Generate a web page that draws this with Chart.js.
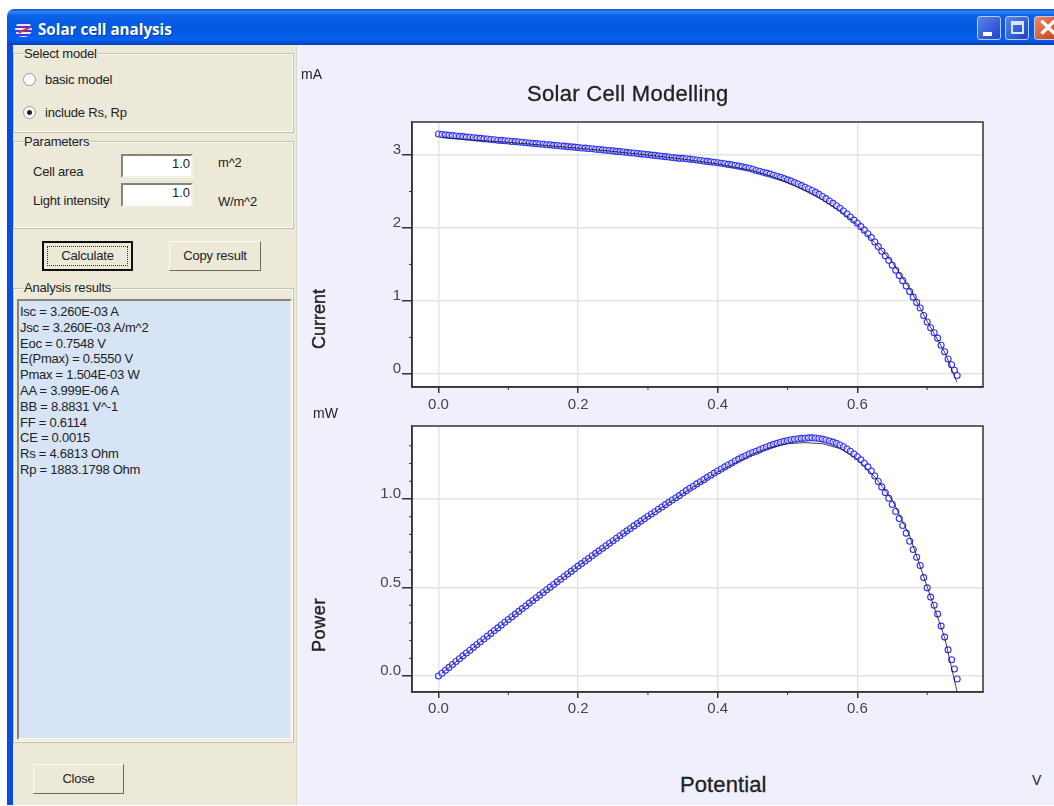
<!DOCTYPE html>
<html>
<head>
<meta charset="utf-8">
<title>Solar cell analysis</title>
<script src="https://cdn.jsdelivr.net/npm/chart.js@4"></script>
<style>
html, body { margin: 0; padding: 0; background: #fff; width: 1054px; height: 806px; overflow: hidden; }
body { font-family: "Liberation Sans", Arial, sans-serif; color: #222; }
.abs { position: absolute; white-space: nowrap; }
#window { position: absolute; left: 7px; top: 9px; width: 1047px; height: 796px; background: #f0f0fc; border-radius: 7px 0 0 0; overflow: hidden; }
#titlebar { position: absolute; left: 0; top: 0; width: 1047px; height: 36px;
  background: linear-gradient(180deg, #0a50d8 0%, #2f86f5 8%, #0c62e6 18%, #0458e2 55%, #0560ee 85%, #0a3fb8 100%); }
#titletext { left: 38px; color: #fff; font: bold 15.2px "Open Sans", sans-serif; text-shadow: 1px 1px 0 #0a3a9c; }
#leftborder { left: 7px; top: 45px; width: 6px; height: 760px; background: #0c4be0; }
#panel { left: 13px; top: 45px; width: 283px; height: 760px; background: #ece9d8; border-right: 1px solid #dcd9c6; }
.group { position: absolute; box-sizing: border-box; border: 1px solid #c4c1ac; box-shadow: 0 0 0 1px #fbfaf4 inset; }
.glabel { position: absolute; background: #ece9d8; font-size: 13px; padding: 0 1px; line-height: 14px; letter-spacing: -0.2px; }
.ui { font-size: 13px; letter-spacing: -0.2px; }
.radio { position: absolute; width: 11px; height: 11px; border-radius: 50%; background: #fff; border: 1px solid #9a988c; box-sizing: content-box; }
.radio.on::after { content: ""; position: absolute; left: 3px; top: 3px; width: 5px; height: 5px; border-radius: 50%; background: #222; }
.input { position: absolute; box-sizing: border-box; background: #fff; border: 2px solid; border-color: #86847a #f4f3ea #f4f3ea #86847a; text-align: right; padding-right: 1px; font-size: 13px; line-height: 16px; }
.btn { position: absolute; box-sizing: border-box; background: #ece9d8; border: 1px solid; border-color: #fbfaf4 #6e6c60 #6e6c60 #fbfaf4; text-align: center; font-size: 13px; letter-spacing: -0.2px; }
.btn.def { border: 2px solid #111; }
.btn.def span { position: absolute; left: 3px; right: 3px; top: 3px; bottom: 3px; border: 1px dotted #333; line-height: 18px; }
#results { left: 17px; top: 299px; width: 275px; height: 441px; box-sizing: border-box; background: #d6e4f6; border: 2px solid; border-color: #86847a #f4f3ea #f4f3ea #86847a; padding: 3px 0 0 1px; font-size: 13px; line-height: 15.8px; letter-spacing: -0.25px; }
.wbtn { position: absolute; top: 16px; height: 24px; box-sizing: border-box; border: 1px solid #b8ccf4; border-radius: 3px; }
canvas { position: absolute; }
.clabel { color: #222; }
</style>
</head>
<body>
<div id="window"><div id="titlebar"></div></div>
<div class="abs" style="left:15px;top:22px;width:17px;height:15px;border-radius:8px;background:repeating-linear-gradient(180deg,#3a3ae0 0,#3a3ae0 2px,#e8e8ff 2px,#e8e8ff 4px)"></div>
<div class="abs" style="left:18px;top:29px;width:13px;height:2px;background:#e83030;transform:rotate(-25deg)"></div>
<div class="abs" id="titletext" style="top:19px">Solar cell analysis</div>
<div class="wbtn" style="left:977px;width:24px;background:linear-gradient(135deg,#5a85ec,#1a44c8)"><div class="abs" style="left:5px;top:15px;width:9px;height:4px;background:#fff"></div></div>
<div class="wbtn" style="left:1005px;width:24px;background:linear-gradient(135deg,#5a85ec,#1a44c8)"><div class="abs" style="left:5px;top:4px;width:13px;height:13px;box-sizing:border-box;border:2px solid #dde6ff;border-top-width:4px"></div></div>
<div class="wbtn" style="left:1034px;width:24px;background:linear-gradient(135deg,#ee8a5c,#c8401a);color:#fff;font:bold 24px 'Liberation Sans';line-height:21px;text-indent:3px">&#x2715;</div>

<div class="abs" id="leftborder"></div>
<div class="abs" id="panel"></div>

<div class="group" style="left:13px;top:53px;width:281px;height:80px"></div>
<div class="glabel abs" style="left:23px;top:47px">Select model</div>
<div class="radio" style="left:23px;top:73px"></div>
<div class="abs ui" style="left:45px;top:72px">basic model</div>
<div class="radio on" style="left:23px;top:106px"></div>
<div class="abs ui" style="left:45px;top:105px">include Rs, Rp</div>

<div class="group" style="left:13px;top:141px;width:281px;height:88px"></div>
<div class="glabel abs" style="left:23px;top:135px">Parameters</div>
<div class="abs ui" style="left:33px;top:164px">Cell area</div>
<div class="input" style="left:121px;top:154px;width:72px;height:24px">1.0</div>
<div class="abs ui" style="left:218px;top:155px">m^2</div>
<div class="abs ui" style="left:33px;top:193px">Light intensity</div>
<div class="input" style="left:121px;top:183px;width:72px;height:24px">1.0</div>
<div class="abs ui" style="left:218px;top:194px">W/m^2</div>

<div class="btn def" style="left:42px;top:241px;width:91px;height:30px"><span>Calculate</span></div>
<div class="btn" style="left:169px;top:241px;width:92px;height:30px;line-height:27px">Copy result</div>

<div class="group" style="left:13px;top:288px;width:281px;height:455px"></div>
<div class="glabel abs" style="left:23px;top:281px">Analysis results</div>
<div class="abs" id="results"></div>
<div class="btn" style="left:33px;top:764px;width:91px;height:30px;line-height:27px">Close</div>

<canvas id="currentChart" width="758" height="370" style="left:296px;top:45px"></canvas>
<canvas id="powerChart" width="758" height="310" style="left:296px;top:415px"></canvas>

<div class="abs clabel" style="left:301px;top:66px;font-size:14px">mA</div>
<div class="abs clabel" style="left:313px;top:405px;font-size:14px">mW</div>
<div class="abs clabel" style="left:1032px;top:772px;font-size:14px">V</div>
<div class="abs clabel" id="plotTitle" style="left:527px;top:81px;font-size:22px;letter-spacing:0.3px;-webkit-text-stroke:0.3px #222">Solar Cell Modelling</div>
<div class="abs clabel" id="xTitle" style="left:680px;top:772px;font-size:22px;letter-spacing:0.1px;-webkit-text-stroke:0.3px #222">Potential</div>
<div class="abs clabel" style="left:319px;top:319px;font-size:18px;-webkit-text-stroke:0.4px #222;transform:translate(-50%,-50%) rotate(-90deg)">Current</div>
<div class="abs clabel" style="left:319px;top:625px;font-size:18px;letter-spacing:0.6px;-webkit-text-stroke:0.4px #222;transform:translate(-50%,-50%) rotate(-90deg)">Power</div>

<script>
// results list
const resultLines = ['Isc = 3.260E-03 A', 'Jsc = 3.260E-03 A/m^2', 'Eoc = 0.7548 V', 'E(Pmax) = 0.5550 V',
    'Pmax = 1.504E-03 W', 'AA = 3.999E-06 A', 'BB = 8.8831 V^-1', 'FF = 0.6114', 'CE = 0.0015',
    'Rs = 4.6813 Ohm', 'Rp = 1883.1798 Ohm'];

// measured points (blue circles)
const voltage = [0,.005,.01,.015,.02,.025,.03,.035,.04,.045,.05,.055,.06,.065,.07,.075,.08,.085,.09,.095,
    .1,.105,.11,.115,.12,.125,.13,.135,.14,.145,.15,.155,.16,.165,.17,.175,.18,.185,.19,.195,
    .2,.205,.21,.215,.22,.225,.23,.235,.24,.245,.25,.255,.26,.265,.27,.275,.28,.285,.29,.295,
    .3,.305,.31,.315,.32,.325,.33,.335,.34,.345,.35,.355,.36,.365,.37,.375,.38,.385,.39,.395,
    .4,.405,.41,.415,.42,.425,.43,.435,.44,.445,.45,.455,.46,.465,.47,.475,.48,.485,.49,.495,
    .5,.505,.51,.515,.52,.525,.53,.535,.54,.545,.55,.555,.56,.565,.57,.575,.58,.585,.59,.595,
    .6,.605,.61,.615,.62,.625,.63,.635,.64,.645,.65,.655,.66,.665,.67,.675,.68,.685,.69,.695,
    .7,.705,.71,.715,.72,.725,.73,.735,.739,.743];
const current = [3.288,3.281,3.277,3.271,3.266,3.262,3.256,3.253,3.246,3.243,3.238,3.232,3.229,3.222,3.219,3.213,3.21,3.203,3.201,3.196,
    3.193,3.186,3.184,3.178,3.175,3.168,3.166,3.16,3.156,3.152,3.148,3.142,3.14,3.133,3.131,3.124,3.122,3.115,3.112,3.108,
    3.104,3.097,3.095,3.089,3.086,3.079,3.076,3.071,3.066,3.062,3.057,3.05,3.047,3.041,3.037,3.03,3.027,3.021,3.016,3.011,
    3.006,2.999,2.995,2.989,2.984,2.978,2.973,2.967,2.961,2.955,2.955,2.95,2.944,2.938,2.932,2.925,2.919,2.913,2.907,2.901,
    2.895,2.887,2.881,2.872,2.865,2.856,2.848,2.838,2.828,2.818,2.805,2.789,2.778,2.765,2.752,2.739,2.724,2.709,2.694,2.677,
    2.66,2.642,2.622,2.602,2.581,2.559,2.537,2.513,2.488,2.461,2.432,2.402,2.37,2.338,2.305,2.27,2.232,2.191,2.15,2.108,
    2.064,2.018,1.97,1.921,1.868,1.808,1.745,1.682,1.618,1.556,1.49,1.419,1.347,1.278,1.205,1.128,1.052,.98,.904,.8,
    .712,.633,.563,.49,.392,.303,.203,.125,.05,-.023];
const power = [0,.016,.033,.049,.065,.082,.098,.114,.13,.146,.162,.178,.194,.209,.225,.241,.257,.272,.288,.304,
    .319,.335,.35,.365,.381,.396,.412,.427,.442,.457,.472,.487,.502,.517,.532,.547,.562,.576,.591,.606,
    .621,.635,.65,.664,.679,.693,.707,.722,.736,.75,.764,.778,.792,.806,.82,.833,.848,.861,.875,.888,
    .902,.915,.928,.942,.955,.968,.981,.994,1.007,1.019,1.034,1.047,1.06,1.072,1.085,1.097,1.109,1.122,1.134,1.146,
    1.158,1.169,1.181,1.192,1.203,1.214,1.225,1.235,1.244,1.254,1.262,1.269,1.278,1.286,1.293,1.301,1.308,1.314,1.32,1.325,
    1.33,1.334,1.337,1.34,1.342,1.343,1.345,1.345,1.344,1.341,1.338,1.333,1.327,1.321,1.314,1.305,1.295,1.282,1.269,1.254,
    1.238,1.221,1.202,1.181,1.158,1.13,1.099,1.068,1.036,1.004,.969,.929,.889,.85,.807,.761,.715,.671,.624,.556,
    .498,.446,.4,.35,.282,.22,.148,.092,.04,-.017];

// fitted model (black line)
const fitVoltage = [.005,.025,.05,.1,.15,.2,.25,.3,.35,.4,.45,.475,.5,.525,.55,.575,.6,.625,.65,.675,.7,.725,.7428];
const fitCurrent = [3.24,3.225,3.205,3.175,3.135,3.095,3.05,3,2.945,2.88,2.785,2.715,2.625,2.51,2.385,2.235,2.045,1.8,1.53,1.17,.72,.3,-.117];
const fitPower = [.016,.08,.16,.318,.47,.62,.762,.9,1.03,1.152,1.253,1.29,1.312,1.318,1.312,1.285,1.226,1.125,.995,.79,.504,.218,-.087];

// ticks
const xTicks = [0,.1,.2,.3,.4,.5,.6,.7];
const xLabels = {0:'0.0',.2:'0.2',.4:'0.4',.6:'0.6'};
const currentTicks = [0,.5,1,1.5,2,2.5,3];
const currentLabels = {0:'0',1:'1',2:'2',3:'3'};
const powerTicks = [0,.1,.2,.3,.4,.5,.6,.7,.8,.9,1,1.1,1.2,1.3];
const powerLabels = {0:'0.0',.5:'0.5',1:'1.0'};

document.querySelector('#results').innerHTML = resultLines.join('<br>');

// white plot background, frame and short ticks
const plotFrame = {
    id: 'plotFrame',
    beforeDraw(chart) {
        const a = chart.chartArea;
        chart.ctx.fillStyle = '#fff';
        chart.ctx.fillRect(a.left, a.top, a.right - a.left, a.bottom - a.top);
    },
    afterDraw(chart) {
        const ctx = chart.ctx, a = chart.chartArea;
        ctx.save();
        ctx.strokeStyle = '#333';
        ctx.lineWidth = 1.5;
        ctx.strokeRect(a.left, a.top, a.right - a.left, a.bottom - a.top);
        ctx.lineWidth = 1;
        ctx.beginPath();
        chart.scales.x.ticks.forEach((t, i) => {
            if (t.label !== '') return;
            const px = chart.scales.x.getPixelForTick(i);
            ctx.moveTo(px, a.bottom);
            ctx.lineTo(px, a.bottom + 3);
        });
        chart.scales.y.ticks.forEach((t, i) => {
            if (t.label !== '') return;
            const py = chart.scales.y.getPixelForTick(i);
            ctx.moveTo(a.left, py);
            ctx.lineTo(a.left - 3, py);
        });
        ctx.stroke();
        ctx.restore();
    }
};

function makeChart(id, measured, fitted, cfg) {
    const pts = measured.map((v, i) => ({x: voltage[i], y: v}));
    const line = fitted.map((v, i) => ({x: fitVoltage[i], y: v}));
    const labelled = (labels) => (ctx) => labels[ctx.tick.value] !== undefined;
    return new Chart(document.querySelector(id), {
        type: 'scatter',
        data: {
            datasets: [
                {data: line, showLine: true, borderColor: 'rgba(20,20,20,0.8)', borderWidth: 1, pointRadius: 0, tension: 0, order: 0},
                {data: pts, showLine: false, pointRadius: 3, borderColor: '#3030ff', borderWidth: 1.1, backgroundColor: 'rgba(255,255,255,0.45)', order: 1}
            ]
        },
        options: {
            responsive: false,
            animation: false,
            devicePixelRatio: 1,
            layout: {autoPadding: false, padding: {top: cfg.top, right: 71, left: 0, bottom: 0}},
            plugins: {legend: {display: false}, tooltip: {enabled: false}, title: {display: false}},
            scales: {
                x: {
                    type: 'linear', min: -0.038, max: 0.78,
                    afterBuildTicks: (s) => { s.ticks = xTicks.map(v => ({value: v})); },
                    afterFit: (s) => { s.height = cfg.xHeight; },
                    border: {color: '#333', width: 1.5},
                    grid: {
                        color: (c) => labelled(xLabels)(c) ? '#e4e4e4' : 'transparent',
                        tickColor: (c) => labelled(xLabels)(c) ? '#333' : 'transparent',
                        tickLength: 6, lineWidth: 1.5
                    },
                    ticks: {
                        autoSkip: false, maxRotation: 0, padding: cfg.xPad, color: '#444',
                        font: {family: 'Liberation Sans', size: 15},
                        callback: (v) => xLabels[v] !== undefined ? xLabels[v] : ''
                    }
                },
                y: {
                    type: 'linear', min: cfg.yMin, max: cfg.yMax,
                    afterBuildTicks: (s) => { s.ticks = cfg.yTicks.map(v => ({value: v})); },
                    afterFit: (s) => { s.width = 116; },
                    border: {color: '#333', width: 1.5},
                    grid: {
                        color: (c) => labelled(cfg.yLabels)(c) ? '#e4e4e4' : 'transparent',
                        tickColor: (c) => labelled(cfg.yLabels)(c) ? '#333' : 'transparent',
                        tickLength: 10, lineWidth: 1.5
                    },
                    ticks: {
                        autoSkip: false, padding: 1, labelOffset: -5, color: '#444',
                        font: {family: 'Liberation Sans', size: 15},
                        callback: (v) => cfg.yLabels[v] !== undefined ? cfg.yLabels[v] : ''
                    }
                }
            }
        },
        plugins: [plotFrame]
    });
}

makeChart('#currentChart', current, fitCurrent, {
    top: 77, xHeight: 28, xPad: 3, yMin: -0.18, yMax: 3.453, yTicks: currentTicks, yLabels: currentLabels
});
makeChart('#powerChart', power, fitPower, {
    top: 11, xHeight: 33, xPad: 2, yMin: -0.09, yMax: 1.412, yTicks: powerTicks, yLabels: powerLabels
});
</script>
</body>
</html>
